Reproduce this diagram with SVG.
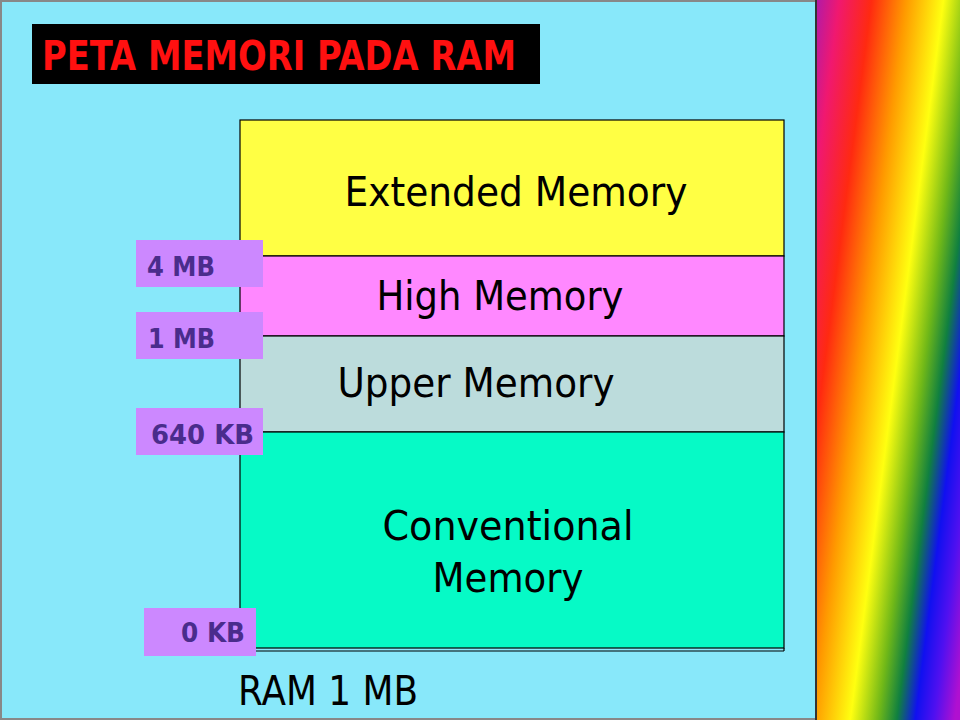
<svg xmlns="http://www.w3.org/2000/svg" width="960" height="720" viewBox="0 0 960 720">
  <defs>
    <linearGradient id="rainbow" gradientUnits="userSpaceOnUse" x1="816" y1="0" x2="1044" y2="29.5">
      <stop offset="0" stop-color="#b01aa8"/>
      <stop offset="0.1" stop-color="#f01870"/>
      <stop offset="0.24" stop-color="#ff2a10"/>
      <stop offset="0.39" stop-color="#ff9a00"/>
      <stop offset="0.55" stop-color="#ffff10"/>
      <stop offset="0.67" stop-color="#70b818"/>
      <stop offset="0.75" stop-color="#108040"/>
      <stop offset="0.83" stop-color="#1010f0"/>
      <stop offset="0.91" stop-color="#5010f0"/>
      <stop offset="1" stop-color="#b010d0"/>
    </linearGradient>
    <style>
      .seg { stroke: #000; stroke-width: 1.2; }
      .mtxt { font-family: "DejaVu Sans", "Liberation Sans", sans-serif; font-size: 41px; fill: #000; text-anchor: middle; }
      .lbl { fill: #cc88ff; }
      .ltxt { font-family: "DejaVu Sans", "Liberation Sans", sans-serif; font-weight: bold; font-size: 27px; fill: #4a2c8c; }
    </style>
  </defs>

  <rect x="0" y="0" width="960" height="720" fill="#888"/>
  <rect x="2" y="2" width="814" height="716" fill="#88e8fa"/>
  <rect x="816" y="0" width="144" height="720" fill="url(#rainbow)"/>
  <line x1="816" y1="0" x2="816" y2="720" stroke="#333" stroke-width="2"/>

  <g id="title">
    <rect x="32" y="24" width="508" height="60" fill="#000"/>
    <text x="42" y="70" font-family="DejaVu Sans, Liberation Sans, sans-serif" font-weight="bold" font-size="40" fill="#ff1010" textLength="474" lengthAdjust="spacingAndGlyphs">PETA MEMORI PADA RAM</text>
  </g>

  <g id="extended">
    <rect class="seg" x="240" y="120" width="544" height="136" fill="#ffff44"/>
    <text class="mtxt" x="516" y="206" textLength="343" lengthAdjust="spacingAndGlyphs">Extended Memory</text>
  </g>
  <g id="high">
    <rect class="seg" x="240" y="256" width="544" height="80" fill="#ff88ff"/>
    <text class="mtxt" x="500" y="310" textLength="247" lengthAdjust="spacingAndGlyphs">High Memory</text>
  </g>
  <g id="upper">
    <rect class="seg" x="240" y="336" width="544" height="96" fill="#bcdcdc"/>
    <text class="mtxt" x="476" y="397" textLength="277" lengthAdjust="spacingAndGlyphs">Upper Memory</text>
  </g>
  <g id="conventional">
    <rect class="seg" x="240" y="432" width="544" height="216" fill="#06fac6"/>
    <line x1="240" y1="651" x2="784" y2="651" stroke="#000" stroke-width="1.2"/>
    <line x1="784" y1="648" x2="784" y2="651" stroke="#000" stroke-width="1.2"/>
    <text class="mtxt" x="508" y="540" textLength="251" lengthAdjust="spacingAndGlyphs">Conventional</text>
    <text class="mtxt" x="508" y="592" textLength="151" lengthAdjust="spacingAndGlyphs">Memory</text>
  </g>

  <g id="label-4mb">
    <rect class="lbl" x="136" y="240" width="127" height="47"/>
    <text class="ltxt" x="147" y="276" textLength="68" lengthAdjust="spacingAndGlyphs">4 MB</text>
  </g>
  <g id="label-1mb">
    <rect class="lbl" x="136" y="312" width="127" height="47"/>
    <text class="ltxt" x="148" y="348" textLength="67" lengthAdjust="spacingAndGlyphs">1 MB</text>
  </g>
  <g id="label-640kb">
    <rect class="lbl" x="136" y="408" width="127" height="47"/>
    <text class="ltxt" x="151" y="444" textLength="103" lengthAdjust="spacingAndGlyphs">640 KB</text>
  </g>
  <g id="label-0kb">
    <rect class="lbl" x="144" y="608" width="112" height="48"/>
    <text class="ltxt" x="181" y="642" textLength="64" lengthAdjust="spacingAndGlyphs">0 KB</text>
  </g>

  <g id="ram">
    <text x="238" y="705" font-family="DejaVu Sans, Liberation Sans, sans-serif" font-size="41" fill="#000" textLength="180" lengthAdjust="spacingAndGlyphs">RAM 1 MB</text>
  </g>
</svg>
